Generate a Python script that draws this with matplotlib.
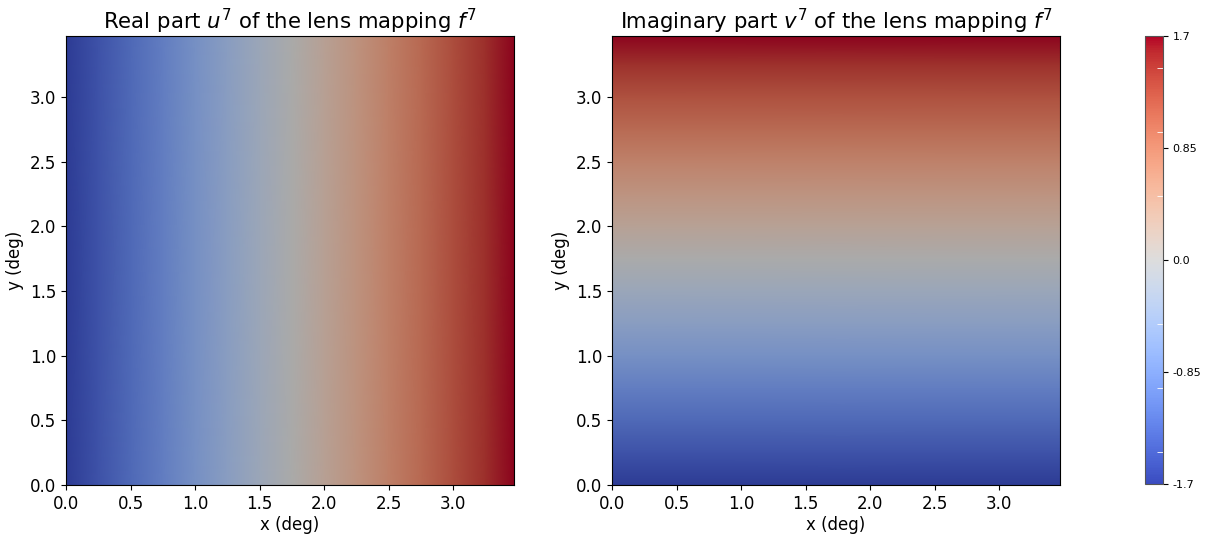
import numpy as np
import matplotlib
matplotlib.use("Agg")
import matplotlib.pyplot as plt
from matplotlib.colors import ListedColormap, Normalize
from matplotlib.cm import ScalarMappable

# sample nodes (deg) and field values
nodes = [0.0, 0.25, 0.5, 0.75, 1.0, 1.25, 1.5, 1.75, 2.0, 2.25, 2.5, 2.75, 3.0, 3.25, 3.47]
u_vals = [-1.70, -1.46, -1.21, -0.97, -0.72, -0.48, -0.23, 0.01,
          0.26, 0.50, 0.75, 0.99, 1.24, 1.48, 1.70]
v_vals = [-1.70, -1.46, -1.22, -0.97, -0.73, -0.49, -0.25, -0.01,
          0.24, 0.48, 0.73, 0.98, 1.22, 1.47, 1.70]
edge = [0.0, 3.47]
vmin, vmax = -1.7, 1.7
cbar_ticks = [-1.7, -0.85, 0.0, 0.85, 1.7]
minor_ticks = [-1.457, -0.971, -0.486, 0.486, 0.971, 1.457]

base = plt.get_cmap("coolwarm")
dark = ListedColormap(base(np.linspace(0, 1, 256))[:, :3] * 0.77)

fig = plt.figure(figsize=(12.07, 5.36), dpi=100)
ax1 = fig.add_axes([66/1207, 1-485/536, 448/1207, 449/536])
ax2 = fig.add_axes([612/1207, 1-485/536, 448/1207, 449/536])
cax = fig.add_axes([1145/1207, 1-484/536, 18/1207, 448/536])

U = np.array([u_vals, u_vals])
V = np.array([v_vals, v_vals]).T
ax1.pcolormesh(nodes, edge, U, shading="gouraud", cmap=dark, vmin=vmin, vmax=vmax)
ax2.pcolormesh(edge, nodes, V, shading="gouraud", cmap=dark, vmin=vmin, vmax=vmax)

titles = [r"Real part $u^7$ of the lens mapping $f^7$",
          r"Imaginary part $v^7$ of the lens mapping $f^7$"]
for ax, t in zip([ax1, ax2], titles):
    ax.set_xlim(0, 3.47)
    ax.set_ylim(0, 3.47)
    ax.set_xticks(np.arange(0, 3.01, 0.5))
    ax.set_yticks(np.arange(0, 3.01, 0.5))
    ax.tick_params(labelsize=12)
    ax.set_xlabel("x (deg)", fontsize=12, labelpad=2)
    ax.set_ylabel("y (deg)", fontsize=12, labelpad=4)
    ax.set_title(t, fontsize=15.3, pad=5)

sm = ScalarMappable(norm=Normalize(vmin, vmax), cmap=base)
cb = fig.colorbar(sm, cax=cax, ticks=cbar_ticks)
cb.ax.set_yticklabels([str(v) for v in cbar_ticks])
cb.ax.tick_params(labelsize=8)
cb.ax.set_yticks(minor_ticks, minor=True)
cb.ax.tick_params(which="minor", direction="in", color="white", length=4)
cb.outline.set_edgecolor("#555555")

fig.savefig("out.png", dpi=100)
